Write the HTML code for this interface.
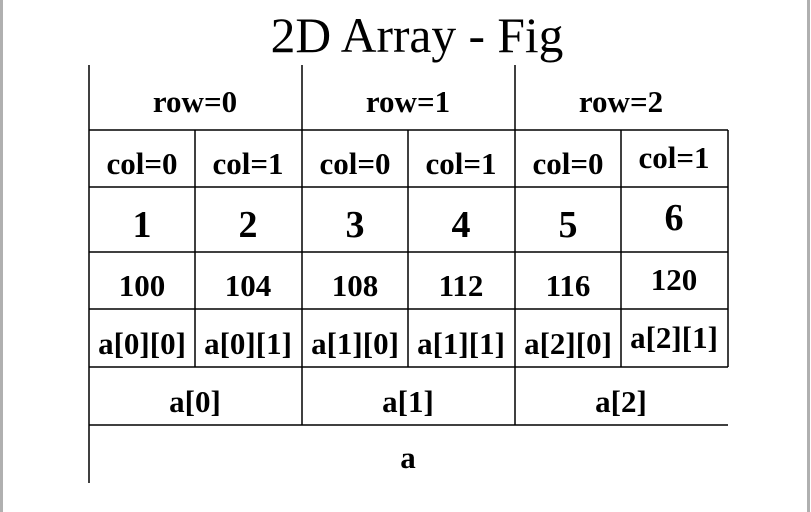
<!DOCTYPE html>
<html><head><meta charset="utf-8"><style>
html,body{margin:0;padding:0;background:#fff;width:811px;height:512px;overflow:hidden}
svg{display:block}
text{font-family:"Liberation Serif",serif;fill:#000}
.b{font-weight:bold;font-size:31px}
.n{font-weight:bold;font-size:38px}
</style></head><body>
<svg width="811" height="512" viewBox="0 0 811 512">
<rect x="0" y="0" width="3" height="512" fill="#b0b0b0"/>
<rect x="807" y="0" width="3" height="512" fill="#b0b0b0"/>
<text x="417" y="52" text-anchor="middle" font-size="49.5">2D Array - Fig</text>
<g stroke="#000" stroke-width="1.5">
<line x1="89" y1="65" x2="89" y2="483"/>
<line x1="302" y1="65" x2="302" y2="425"/>
<line x1="515" y1="65" x2="515" y2="425"/>
<line x1="195" y1="130" x2="195" y2="367"/>
<line x1="408" y1="130" x2="408" y2="367"/>
<line x1="621" y1="130" x2="621" y2="367"/>
<line x1="728" y1="130" x2="728" y2="367"/>
<line x1="89" y1="130" x2="728" y2="130"/>
<line x1="89" y1="187" x2="728" y2="187"/>
<line x1="89" y1="252" x2="728" y2="252"/>
<line x1="89" y1="309" x2="728" y2="309"/>
<line x1="89" y1="367" x2="728" y2="367"/>
<line x1="89" y1="425" x2="728" y2="425"/>
</g>
<g text-anchor="middle">
<text class="b" x="195" y="112">row=0</text>
<text class="b" x="408" y="112">row=1</text>
<text class="b" x="621" y="112">row=2</text>
<text class="b" x="142" y="174">col=0</text>
<text class="b" x="248" y="174">col=1</text>
<text class="b" x="355" y="174">col=0</text>
<text class="b" x="461" y="174">col=1</text>
<text class="b" x="568" y="174">col=0</text>
<text class="b" x="674" y="168">col=1</text>
<text class="n" x="142" y="237">1</text>
<text class="n" x="248" y="237">2</text>
<text class="n" x="355" y="237">3</text>
<text class="n" x="461" y="237">4</text>
<text class="n" x="568" y="237">5</text>
<text class="n" x="674" y="230">6</text>
<text class="b" x="142" y="296">100</text>
<text class="b" x="248" y="296">104</text>
<text class="b" x="355" y="296">108</text>
<text class="b" x="461" y="296">112</text>
<text class="b" x="568" y="296">116</text>
<text class="b" x="674" y="290">120</text>
<text class="b" x="142" y="354">a[0][0]</text>
<text class="b" x="248" y="354">a[0][1]</text>
<text class="b" x="355" y="354">a[1][0]</text>
<text class="b" x="461" y="354">a[1][1]</text>
<text class="b" x="568" y="354">a[2][0]</text>
<text class="b" x="674" y="348">a[2][1]</text>
<text class="b" x="195" y="412">a[0]</text>
<text class="b" x="408" y="412">a[1]</text>
<text class="b" x="621" y="412">a[2]</text>
<text class="b" x="408" y="468">a</text>
</g>
</svg>
</body></html>
